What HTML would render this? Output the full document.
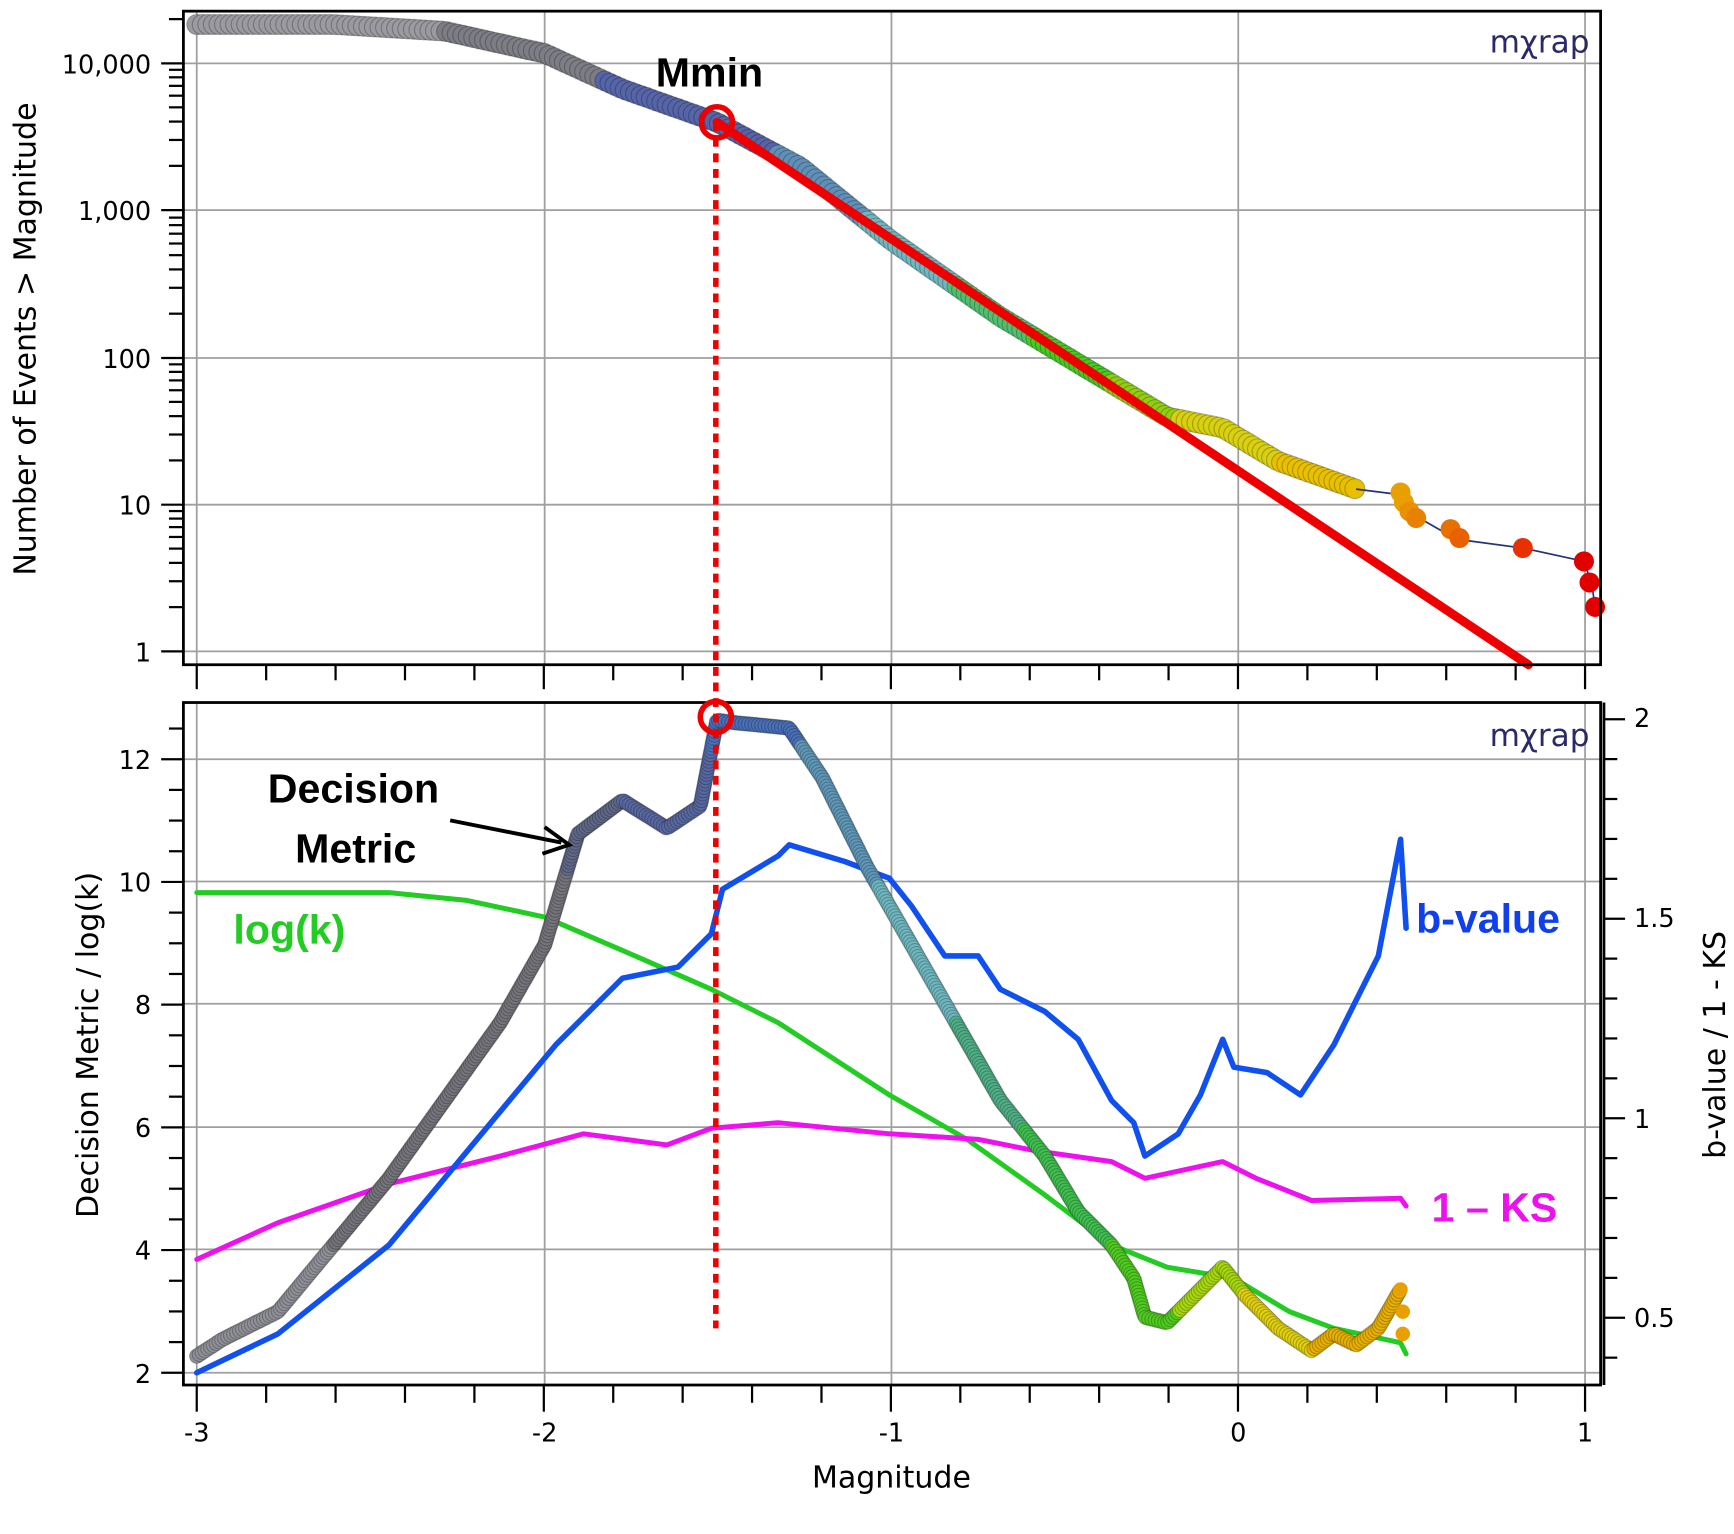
<!DOCTYPE html>
<html><head><meta charset="utf-8"><style>
html,body{margin:0;padding:0;background:#fff;}
svg{display:block;font-family:"DejaVu Sans","Liberation Sans",sans-serif;}
</style></head><body>
<svg id="s" width="1734" height="1534" viewBox="0 0 1560 1380" xmlns="http://www.w3.org/2000/svg">
<g id="grid" stroke="#888" stroke-width="1.6" opacity="0.8"></g>
<g id="ticks" stroke="#000" stroke-width="2"></g>
<g id="data"></g>
<rect x="165" y="10" width="1275" height="588" fill="none" stroke="#000" stroke-width="2.5"/>
<rect x="165" y="632" width="1275" height="614" fill="none" stroke="#000" stroke-width="2.5"/>
<line x1="1443" y1="632" x2="1443" y2="1246" stroke="#000" stroke-width="2.5"/>
<g font-size="23" fill="#000" text-anchor="end">
<text x="136" y="66">10,000</text><text x="136" y="198">1,000</text><text x="136" y="331">100</text><text x="136" y="463">10</text><text x="136" y="595">1</text>
<text x="136" y="692">12</text><text x="136" y="802">10</text><text x="136" y="912">8</text><text x="136" y="1023">6</text><text x="136" y="1133">4</text><text x="136" y="1244">2</text>
</g>
<g font-size="23" fill="#000" text-anchor="start">
<text x="1470" y="654">2</text><text x="1470" y="834">1.5</text><text x="1470" y="1015">1</text><text x="1470" y="1194">0.5</text>
</g>
<g font-size="23" fill="#000" text-anchor="middle">
<text x="177" y="1297">-3</text><text x="490" y="1297">-2</text><text x="802" y="1297">-1</text><text x="1114" y="1297">0</text><text x="1426" y="1297">1</text>
<text x="802" y="1338" font-size="27">Magnitude</text>
</g>
<text transform="translate(32,305) rotate(-90)" font-size="27" text-anchor="middle">Number of Events &gt; Magnitude</text>
<text transform="translate(88,940) rotate(-90)" font-size="27" text-anchor="middle">Decision Metric / log(k)</text>
<text transform="translate(1552,940) rotate(-90)" font-size="27" text-anchor="middle">b-value / 1 - KS</text>
<text x="1430" y="47" font-size="28" fill="#2a2a6a" text-anchor="end">mχrap</text>
<text x="1430" y="671" font-size="28" fill="#2a2a6a" text-anchor="end">mχrap</text>
<g font-family="Liberation Sans, sans-serif" font-weight="bold" font-size="37">
<text x="590" y="78">Mmin</text>
<text x="318" y="722" text-anchor="middle">Decision</text>
<text x="320" y="776" text-anchor="middle">Metric</text>
<text x="210" y="849" fill="#22cc22">log(k)</text>
<text x="1274" y="839" fill="#1040ee">b-value</text>
<text x="1288" y="1099" fill="#ee10ee">1 – KS</text>
</g>
<line x1="405" y1="738" x2="505" y2="758" stroke="#000" stroke-width="3.5"/>
<path d="M490 744 L512 760 L488 768" fill="none" stroke="#000" stroke-width="3.5"/>
<g id="overlay"></g>
</svg>
<script>
(function(){
var NS="http://www.w3.org/2000/svg";
function el(p,t,a){var e=document.createElementNS(NS,t);for(var k in a)e.setAttribute(k,a[k]);document.getElementById(p).appendChild(e);return e;}
[177,490,802,1114,1426].forEach(function(x){el('grid','line',{x1:x,y1:10,x2:x,y2:598});el('grid','line',{x1:x,y1:632,x2:x,y2:1246});});
[57,189,322,454,586].forEach(function(y){el('grid','line',{x1:165,y1:y,x2:1440,y2:y});});
[683,793,903,1014,1124,1235].forEach(function(y){el('grid','line',{x1:165,y1:y,x2:1440,y2:y});});
for(var i=0;i<=20;i++){var x=177+i*62.45;var maj=i%5==0;
 el('ticks','line',{x1:x,y1:598,x2:x,y2:maj?620:612});
 el('ticks','line',{x1:x,y1:1246,x2:x,y2:maj?1270:1262});}
[57,189,322,454,586].forEach(function(y0){el('ticks','line',{x1:145,y1:y0,x2:165,y2:y0});
 for(var m=2;m<=9;m++){var y=y0-132.3*Math.log10(m);if(y>12)el('ticks','line',{x1:152,y1:y,x2:165,y2:y});}});
for(var v=2;v<=12.9;v+=0.5){var y=1235-(v-2)*55.2;el('ticks','line',{x1:v%2==0?145:152,y1:y,x2:165,y2:y});}
for(var w=4;w<=20;w++){var vv=w/10;var yy=1006-(vv-1)*359;var mj=(w%5==0);el('ticks','line',{x1:1443,y1:yy,x2:mj?1462:1455,y2:yy});}
function poly(pts,c,wd){el('data','polyline',{points:pts.map(function(p){return p.join(',');}).join(' '),fill:'none',stroke:c,'stroke-width':wd,'stroke-linejoin':'round','stroke-linecap':'round'});}
function colAt(cols,t){var c=cols[0][1];for(var j=0;j<cols.length;j++){if(t>=cols[j][0])c=cols[j][1];}return c;}
function markers(pts,cols,step,r){
 var segs=[];var L=0;
 for(var j=1;j<pts.length;j++){var dx=pts[j][0]-pts[j-1][0],dy=pts[j][1]-pts[j-1][1];var l=Math.sqrt(dx*dx+dy*dy);segs.push([pts[j-1],pts[j],l,L]);L+=l;}
 el('data','polyline',{points:pts.map(function(p){return p.join(',');}).join(' '),fill:'none',stroke:'#223377','stroke-width':1.5});
 var k=0;
 for(var s=0;s<=L;s+=step){while(k<segs.length-1&&s>segs[k][3]+segs[k][2])k++;
  var sg=segs[k];var f=(s-sg[3])/sg[2];var px=sg[0][0]+f*(sg[1][0]-sg[0][0]),py=sg[0][1]+f*(sg[1][1]-sg[0][1]);
  el('data','circle',{cx:px.toFixed(1),cy:py.toFixed(1),r:r,fill:colAt(cols,px),stroke:'rgba(0,0,0,0.25)','stroke-width':1});}}
var tp=[[177,22],[300,22],[400,28],[490,48],[560,80],[645,110],[720,150],[800,215],[900,285],[1000,345],[1050,375],[1100,385],[1150,415],[1220,440]];
markers(tp,[[0,'#9a9aa0'],[400,'#7d7d85'],[540,'#5565a8'],[700,'#6090b8'],[780,'#70b8c0'],[860,'#50c070'],[930,'#44cc22'],[1000,'#90d010'],[1060,'#d8d010'],[1150,'#e8c000']],5,9);
el('data','polyline',{points:'1220,440 1260,445 1275,465 1310,485 1370,493 1425,505 1432,525 1435,546',fill:'none',stroke:'#223377','stroke-width':1.5});
[[1260,443,'#e8a000'],[1263,452,'#e8a000'],[1268,460,'#e89000'],[1274,466,'#e88000'],[1305,476,'#e87000'],[1313,484,'#e86000'],[1370,493,'#e83000'],[1425,505,'#e00000'],[1430,524,'#e00000'],[1435,546,'#e00000']].forEach(function(p){el('data','circle',{cx:p[0],cy:p[1],r:9,fill:p[2]});});
poly([[645,110],[1375,598]],'#ee0000',8);
poly([[177,803],[350,803],[420,810],[490,825],[560,855],[640,890],[700,920],[800,985],[870,1025],[940,1075],[1000,1120],[1050,1140],[1110,1150],[1160,1180],[1200,1195],[1260,1208],[1265,1218]],'#22cc22',4.5);
poly([[177,1133],[250,1100],[350,1065],[450,1040],[525,1020],[600,1030],[640,1015],[700,1010],[800,1020],[880,1025],[930,1035],[1000,1045],[1030,1060],[1100,1045],[1130,1060],[1180,1080],[1260,1078],[1265,1085]],'#ee10ee',4.5);
poly([[177,1235],[250,1200],[350,1120],[450,1000],[500,940],[560,880],[610,870],[640,840],[650,800],[700,770],[710,760],[760,775],[800,790],[820,815],[850,860],[880,860],[900,890],[940,910],[970,935],[1000,990],[1020,1010],[1030,1040],[1060,1020],[1080,985],[1100,935],[1110,960],[1140,965],[1170,985],[1200,940],[1215,910],[1240,860],[1260,755],[1265,835]],'#1050ee',5);
var dm=[[177,1220],[200,1205],[250,1180],[300,1120],[350,1060],[400,990],[450,920],[490,850],[520,750],[560,720],[600,745],[630,725],[645,648],[660,650],[710,655],[740,700],[780,780],[820,850],[860,920],[900,990],[940,1040],[970,1090],[1000,1120],[1020,1150],[1030,1185],[1050,1190],[1080,1160],[1100,1140],[1120,1165],[1150,1195],[1180,1215],[1200,1200],[1220,1210],[1240,1195],[1260,1160]];
markers(dm,[[0,'#909098'],[300,'#75757c'],[510,'#606888'],[560,'#5868a0'],[640,'#4a70b8'],[720,'#6098b8'],[790,'#70b8c0'],[860,'#50b088'],[920,'#40c050'],[1000,'#50cc20'],[1060,'#a8d810'],[1120,'#e0d010'],[1180,'#e8b000']],3,6.5);
[[1260,1160],[1262,1180],[1262,1200]].forEach(function(p){el('data','circle',{cx:p[0],cy:p[1],r:6.5,fill:'#e8a000'});});
el('overlay','line',{x1:644,y1:110,x2:644,y2:1195,stroke:'#ee0000','stroke-width':5,'stroke-dasharray':'8 6'});
el('overlay','circle',{cx:645,cy:110,r:14,fill:'none',stroke:'#ee0000','stroke-width':5});
el('overlay','circle',{cx:644,cy:645,r:14,fill:'none',stroke:'#ee0000','stroke-width':5});
})();
</script>
</body></html>
